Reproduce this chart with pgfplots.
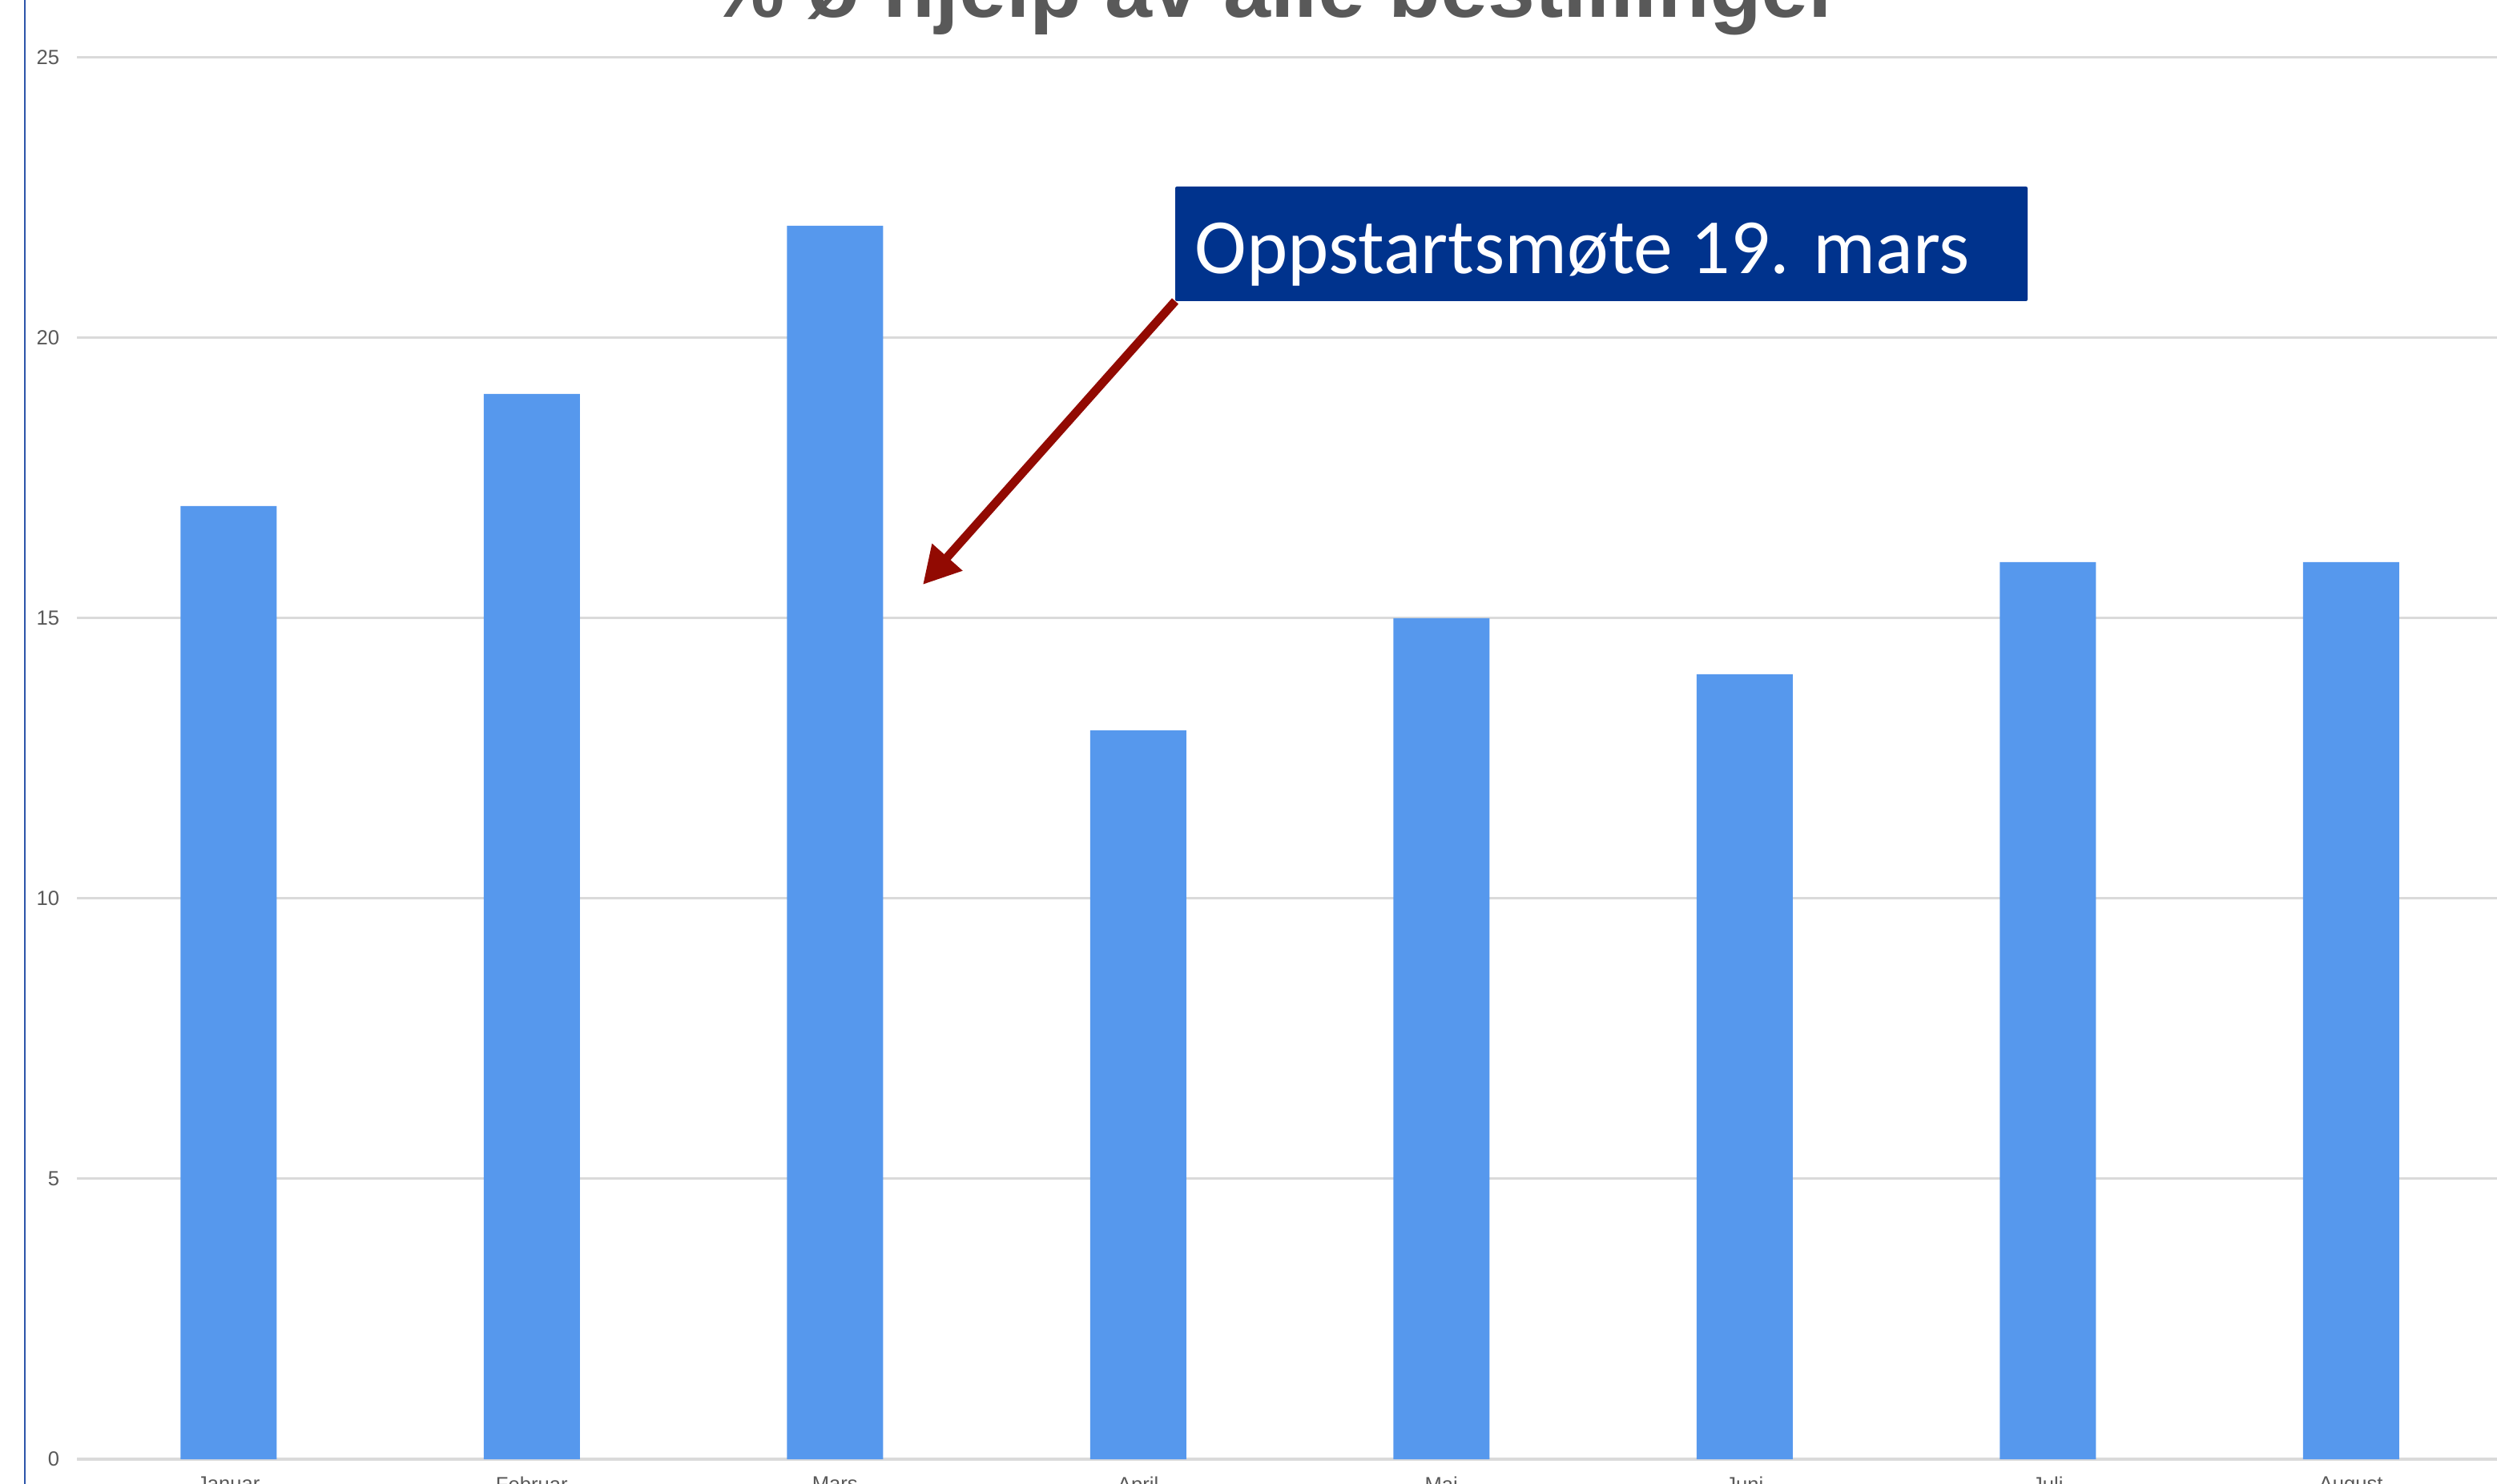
\documentclass[border=0pt]{standalone}
\usepackage{pgfplots}
\pgfplotsset{compat=1.18}
\usepackage{fontspec}
\setmainfont{Liberation Sans}
\newfontfamily\carlito{Carlito}
\usetikzlibrary{arrows.meta}
\definecolor{barblue}{RGB}{86,152,237}
\definecolor{boxblue}{RGB}{0,51,141}
\definecolor{arrowred}{RGB}{146,10,2}
\definecolor{txtgray}{RGB}{89,89,89}
\definecolor{gridgray}{RGB}{218,218,218}
\definecolor{edgeblue}{RGB}{45,85,170}
\begin{document}
\begin{tikzpicture}
\path[use as bounding box] (0,0) rectangle (779.25pt,463.25pt);
\clip (0,0) rectangle (779.25pt,463.25pt);
\begin{axis}[
  at={(24pt,7.75pt)}, anchor=south west,
  scale only axis,
  width=757pt, height=437.5pt,
  xmin=-0.5, xmax=7.5, ymin=0, ymax=25,
  ytick={0,5,10,15,20,25},
  xtick={0,...,7},
  xticklabels={Januar,Februar,Mars,April,Mai,Juni,Juli,August},
  ymajorgrids,
  grid style={gridgray, line width=0.75pt},
  axis line style={draw=none},
  tick style={draw=none},
  major tick length=0pt,
  /pgf/number format/assume math mode=true,
  tick label style={font=\fontsize{6.4}{7}\selectfont, text=txtgray},
  yticklabel style={anchor=east, inner sep=0pt, xshift=-5.25pt},
  xticklabel style={anchor=north, inner sep=0pt, yshift=-5.25pt},
  ybar, bar width=30pt,
]
\addplot[fill=barblue, draw=none] coordinates {
  (0,17) (1,19) (2,22) (3,13) (4,15) (5,14) (6,16) (7,16)
};
\end{axis}
\draw[edgeblue, line width=0.6pt] (7.75pt,0) -- (7.75pt,463.25pt);
\node[anchor=base, inner sep=0pt, text=txtgray, font=\bfseries\fontsize{26.5}{30}\selectfont] at (398pt,457.75pt) {\% ø hjelp av alle bestillinger};
\fill[boxblue, rounded corners=0.5pt] (366.75pt,369.25pt) rectangle (632.75pt,405pt);
\node[anchor=base west, inner sep=0pt, text=white, font=\carlito\fontsize{24.4}{28}\selectfont] at (372.75pt,377.75pt) {Oppstartsmøte 19. mars};
\draw[arrowred, line width=2.7pt, -{Triangle[length=11.5pt,width=12pt]}] (366.75pt,369.25pt) -- (288pt,280.75pt);
\end{tikzpicture}
\end{document}
